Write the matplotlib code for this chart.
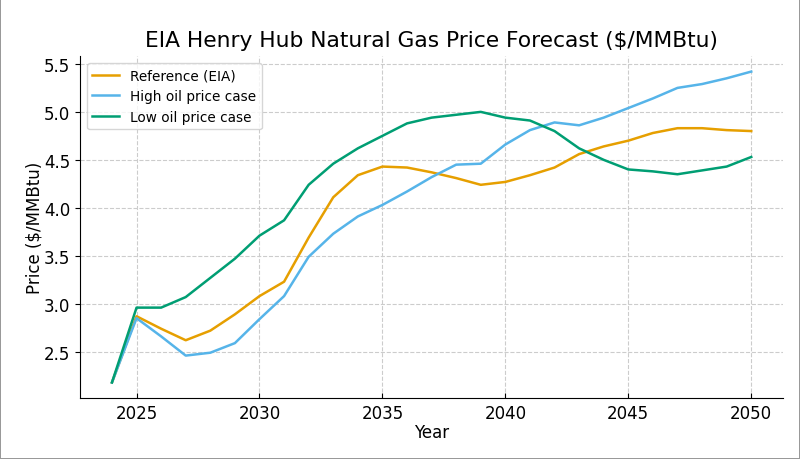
import matplotlib.pyplot as plt

years = list(range(2024, 2051))

reference = [2.18, 2.87, 2.74, 2.62, 2.72, 2.89, 3.08, 3.23, 3.69, 4.11,
             4.34, 4.43, 4.42, 4.37, 4.31, 4.24, 4.27, 4.34, 4.42, 4.56,
             4.64, 4.70, 4.78, 4.83, 4.83, 4.81, 4.80]
high_oil = [2.18, 2.85, 2.66, 2.46, 2.49, 2.59, 2.84, 3.08, 3.49, 3.73,
            3.91, 4.03, 4.17, 4.32, 4.45, 4.46, 4.66, 4.81, 4.89, 4.86,
            4.94, 5.04, 5.14, 5.25, 5.29, 5.35, 5.42]
low_oil = [2.18, 2.96, 2.96, 3.07, 3.27, 3.47, 3.71, 3.87, 4.24, 4.46,
           4.62, 4.75, 4.88, 4.94, 4.97, 5.00, 4.94, 4.91, 4.80, 4.62,
           4.50, 4.40, 4.38, 4.35, 4.39, 4.43, 4.53]

fig = plt.figure(figsize=(8, 4.6), dpi=100)
fig.patch.set_edgecolor("#999999")
fig.patch.set_linewidth(1.2)
ax = fig.add_axes([0.1, 0.1326, 0.879, 0.7434])

ax.plot(years, reference, color="#E69F00", lw=1.8, label="Reference (EIA)")
ax.plot(years, high_oil, color="#56B4E9", lw=1.8, label="High oil price case")
ax.plot(years, low_oil, color="#009E73", lw=1.8, label="Low oil price case")

ax.set_title("EIA Henry Hub Natural Gas Price Forecast ($/MMBtu)", fontsize=15.7, pad=7)
ax.set_xlabel("Year", fontsize=12, labelpad=1)
ax.set_ylabel("Price ($/MMBtu)", fontsize=12, labelpad=0)
ax.set_xticks([2025, 2030, 2035, 2040, 2045, 2050])
ax.tick_params(axis="x", direction="in", labelsize=12, pad=4)
ax.tick_params(axis="y", labelsize=12)
ax.grid(True, linestyle="--", color="#cccccc", lw=0.8)
ax.spines["top"].set_visible(False)
ax.spines["right"].set_visible(False)
ax.legend(loc="upper left", fontsize=9.8)

fig.savefig("out.png", dpi=100)
